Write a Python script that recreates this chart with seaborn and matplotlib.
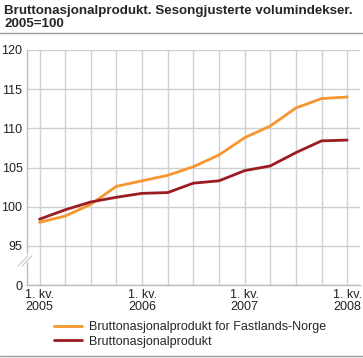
import matplotlib
matplotlib.use('Agg')
from matplotlib import pyplot as plt
from matplotlib.lines import Line2D
import pandas as pd
import seaborn as sns

quarters = ['2005K1', '2005K2', '2005K3', '2005K4',
            '2006K1', '2006K2', '2006K3', '2006K4',
            '2007K1', '2007K2', '2007K3', '2007K4',
            '2008K1']
fastland = [98.0, 98.8, 100.3, 102.6, 103.3, 104.0, 105.1, 106.6,
            108.8, 110.3, 112.6, 113.8, 114.0]
bnp = [98.4, 99.6, 100.6, 101.2, 101.7, 101.8, 103.0, 103.3,
       104.6, 105.2, 106.9, 108.4, 108.5]
series_names = ['Bruttonasjonalprodukt for Fastlands-Norge', 'Bruttonasjonalprodukt']
x_tick_labels = ['1. kv.\n2005', '1. kv.\n2006', '1. kv.\n2007', '1. kv.\n2008']
y_ticks = [90, 95, 100, 105, 110, 115, 120]
y_tick_labels = ['0', '95', '100', '105', '110', '115', '120']

df = pd.concat([
    pd.DataFrame({'x': range(len(quarters)), 'verdi': fastland, 'serie': series_names[0]}),
    pd.DataFrame({'x': range(len(quarters)), 'verdi': bnp, 'serie': series_names[1]}),
])

sns.set_theme(style='white')
plt.rcParams['font.family'] = ['Liberation Sans', 'DejaVu Sans']
colors = {series_names[0]: '#F7962F', series_names[1]: '#9B1B22'}

fig = plt.figure(figsize=(3.63, 3.58), dpi=100)
ax = fig.add_axes([26.7 / 363, 1 - 285 / 358, (360 - 26.7) / 363, (285 - 50) / 358])

sns.lineplot(ax=ax, data=df, x='x', y='verdi', hue='serie', palette=colors,
             linewidth=2, legend=False)

ax.set_xlim(-0.5, 12.5)
ax.set_ylim(90, 120)
ax.set_xticks(range(len(quarters)))
ax.set_xticklabels([x_tick_labels[i // 4] if i % 4 == 0 else '' for i in range(len(quarters))],
                   fontsize=9, ha='center', linespacing=1.0)
ax.set_yticks(y_ticks)
ax.set_yticklabels(y_tick_labels, fontsize=9)
ax.set_xlabel('')
ax.set_ylabel('')
ax.grid(True, color='#d0d0d0', linewidth=1)
ax.tick_params(axis='both', length=0, pad=3, colors='#222222')
for side in ['top', 'right']:
    ax.spines[side].set_visible(False)
for side in ['left', 'bottom']:
    ax.spines[side].set_color('#bbbbbb')
    ax.spines[side].set_linewidth(1)

# axis break marks
ax.plot([-0.02, 0.01], [0.08, 0.125], transform=ax.transAxes, color='white', lw=4,
        clip_on=False, zorder=5)
for dx in (-0.006, 0.006):
    ax.plot([-0.02 + dx, 0.01 + dx], [0.08, 0.125], transform=ax.transAxes,
            color='#c8c8c8', lw=0.8, clip_on=False, zorder=6)

fig.text(0.012, 0.985, 'Bruttonasjonalprodukt. Sesongjusterte volumindekser.\n2005=100',
         fontsize=9.6, fontweight='bold', va='top', ha='left', linespacing=1.1)
fig.add_artist(Line2D([0, 1], [1 - 33 / 358, 1 - 33 / 358], color='#999999', lw=1))
fig.add_artist(Line2D([0, 1], [1 - 356 / 358, 1 - 356 / 358], color='#999999', lw=1))

handles = [Line2D([], [], color=colors[n], lw=2) for n in series_names]
fig.legend(handles, series_names, loc='upper left', bbox_to_anchor=(54 / 363, 1 - 321 / 358),
           frameon=False, fontsize=9, handlelength=2.2, handletextpad=0.6,
           labelspacing=0.2, borderaxespad=0, borderpad=0)

fig.savefig('out.png', dpi=100)
